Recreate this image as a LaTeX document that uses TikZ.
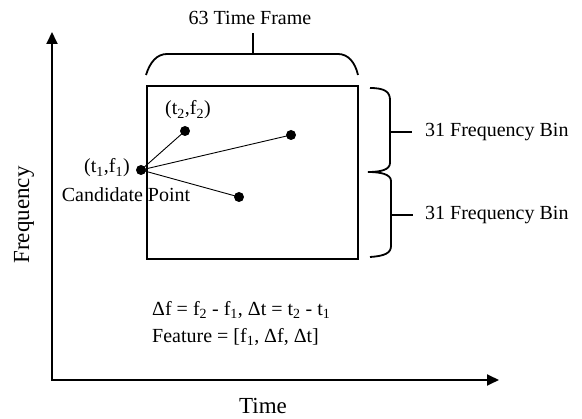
\documentclass[tikz,border=0pt]{standalone}
\usepackage{fontspec}
\setmainfont{Liberation Serif}
\usetikzlibrary{arrows.meta}

\begin{document}
\begin{tikzpicture}[x=1pt,y=-1pt, every node/.style={font=\fontsize{20}{27}\selectfont,inner sep=0pt}, axlabel/.style={font=\fontsize{23}{27}\selectfont}, dot/.style={circle,fill=black,inner sep=0pt,minimum size=10pt}, axis/.style={{Triangle[length=12pt,width=11pt]}-{Triangle[length=12pt,width=11pt]},line width=1.8pt}, frame/.style={line width=1.8pt}, brace/.style={line width=1.8pt}, link/.style={line width=0.9pt}]
  \useasboundingbox (0,0) rectangle (582,419);
  % axes
  \coordinate (o) at (52,380);
  \coordinate (ytop) at (52,32);
  \coordinate (xend) at (499,380);
  \draw[axis] (ytop)--(o)--(xend);
  \node[axlabel,rotate=90] (freq) at (24,215) {Frequency};
  \node[axlabel] (time) at (263,406) {Time};
  % window
  \draw[frame] (147,86) rectangle (358,259);
  % top brace
  \draw[brace] (146,75) .. controls (150,62) and (157,54) .. (167,54) -- (338,54) .. controls (348,54) and (355,62) .. (358,75);
  \coordinate (tf) at (253,54);
  \node (tflab) at (250,18) {63 Time Frame};
  \draw[brace] (tf)--(253,33);
  % right brace
  \draw[brace] (370,88) .. controls (385,88) and (390,92) .. (390,100) -- (390,163) .. controls (390,170) and (380,172) .. (368,172) .. controls (380,172) and (391,174) .. (391,181) -- (391,246) .. controls (391,253) and (385,256) .. (370,257);
  \node[anchor=west] (bin1) at (425,132) {31 Frequency Bin};
  \node[anchor=west] (bin2) at (425,215) {31 Frequency Bin};
  \draw[brace,shorten >=13pt] (390,132)--(bin1.west);
  \draw[brace,shorten >=12pt] (391,215)--(bin2.west);
  % points
  \node[dot] (c) at (141,170) {};
  \node[dot] (p2) at (185,131) {};
  \node[dot] (p3) at (291,135) {};
  \node[dot] (p4) at (239,197) {};
  \draw[link] (c.center)--(p2.center);
  \draw[link] (c.center)--(p3.center);
  \draw[link] (c.center)--(p4.center);
  \node (lp2) at (188,110) {(t\textsubscript{2},f\textsubscript{2})};
  \node (lc) at (107,168) {(t\textsubscript{1},f\textsubscript{1})};
  \node (cand) at (126,195) {Candidate Point};
  % feature text
  \node[anchor=west,align=left] (feat) at (152,323.5) {Δf = f\textsubscript{2} - f\textsubscript{1}, Δt = t\textsubscript{2} - t\textsubscript{1}\\Feature = [f\textsubscript{1}, Δf, Δt]};
\end{tikzpicture}
\end{document}
